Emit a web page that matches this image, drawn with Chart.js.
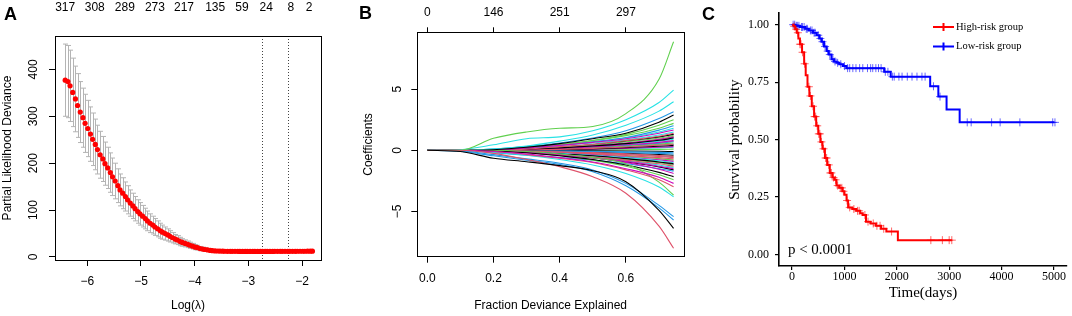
<!DOCTYPE html>
<html lang="en">
<head>
<meta charset="UTF-8">
<title>LASSO and survival</title>
<script src="https://cdn.jsdelivr.net/npm/chart.js"></script>
<style>
  body { margin: 0; background: #fff; width: 1072px; height: 316px; overflow: hidden; position: relative; }
  canvas { position: absolute; top: 0; }
  .tag { position: absolute; font: bold 18px "Liberation Sans", Arial, sans-serif; line-height: 18px; color: #000; }
</style>
</head>
<body>
<canvas id="cvA" width="350" height="316" style="left:0"></canvas>
<canvas id="cvB" width="360" height="316" style="left:350px"></canvas>
<canvas id="cvC" width="372" height="316" style="left:700px"></canvas>
<div class="tag" style="left:4px;top:5px">A</div>
<div class="tag" style="left:359px;top:4px">B</div>
<div class="tag" style="left:702px;top:5px">C</div>
<script>
// ---------- panel A: cross-validation curve ----------
const lassoLogLambda = [
  -6.41, -6.36, -6.32, -6.27, -6.22, -6.18, -6.13, -6.08, -6.04, -5.99,
  -5.94, -5.90, -5.85, -5.81, -5.76, -5.71, -5.67, -5.62, -5.57, -5.53,
  -5.48, -5.43, -5.39, -5.34, -5.29, -5.25, -5.20, -5.15, -5.11, -5.06,
  -5.02, -4.97, -4.92, -4.88, -4.83, -4.78, -4.74, -4.69, -4.64, -4.60,
  -4.55, -4.50, -4.46, -4.41, -4.36, -4.32, -4.27, -4.23, -4.18, -4.13,
  -4.09, -4.04, -3.99, -3.95, -3.90, -3.85, -3.81, -3.76, -3.71, -3.67,
  -3.62, -3.57, -3.53, -3.48, -3.44, -3.39, -3.34, -3.30, -3.25, -3.20,
  -3.16, -3.11, -3.06, -3.02, -2.97, -2.92, -2.88, -2.83, -2.78, -2.74,
  -2.69, -2.65, -2.60, -2.55, -2.51, -2.46, -2.41, -2.37, -2.32, -2.27,
  -2.23, -2.18, -2.13, -2.09, -2.04, -1.99, -1.95, -1.90, -1.85, -1.81
];
const lassoDeviance = [
  377, 374, 365, 351, 337, 323, 309, 297, 285, 274,
  262, 251, 240, 229, 218, 209, 199, 190, 180, 171,
  162, 152, 143, 136, 129, 122, 115, 109, 103, 97,
  92, 87, 82, 77, 72, 68, 64, 60, 56, 53,
  50, 47, 44, 41, 38, 36, 33, 31, 29, 27,
  25, 23, 21, 20, 18, 17, 16, 15, 14, 13.5,
  13, 12.8, 12.6, 12.4, 12.3, 12.2, 12.1, 12, 12, 12,
  11.9, 11.9, 11.8, 11.8, 11.8, 11.8, 11.8, 11.8, 11.8, 11.8,
  11.8, 11.9, 11.9, 11.9, 12, 12, 12, 12.1, 12.1, 12.1,
  12.2, 12.2, 12.2, 12.3, 12.3, 12.3, 12.3, 12.4, 12.4, 12.4
];
const lassoSE = [
  77, 77, 76, 73, 70, 68, 65, 63, 62, 60,
  58, 56, 54, 52, 50, 48, 46, 44, 42, 40,
  38, 36, 34, 33, 31, 30, 28, 27, 26, 25,
  24, 23, 22, 21, 20, 19, 18, 17, 16, 15,
  14, 13, 12, 11, 10, 9.5, 9, 8, 7.5, 7,
  6.5, 6, 5.5, 5, 4.5, 4, 3.5, 3, 2.8, 2.5,
  2.3, 2.1, 2, 1.9, 1.8, 1.7, 1.6, 1.5, 1.5, 1.5,
  1.5, 1.5, 1.5, 1.5, 1.5, 1.5, 1.5, 1.5, 1.5, 1.5,
  1.5, 1.5, 1.5, 1.5, 1.5, 1.5, 1.5, 1.5, 1.5, 1.5,
  1.5, 1.5, 1.5, 1.5, 1.5, 1.5, 1.5, 1.5, 1.5, 1.5
];
const lassoTopAt = [-6.41, -5.86, -5.30, -4.74, -4.20, -3.62, -3.12, -2.67, -2.21, -1.87];
const lassoTopLabels = ['317', '308', '289', '273', '217', '135', '59', '24', '8', '2'];
const lassoXTicks = [-6, -5, -4, -3, -2];
const lassoYTicks = [0, 100, 200, 300, 400];
const lambdaMin = -2.74;
const lambda1se = -2.27;

// ---------- panel B: coefficient paths ----------
const coefX = [0, 0.1, 0.2, 0.3, 0.4, 0.5, 0.6, 0.7, 0.744];
const coefPaths = [
  [0, -0.1, -0.65, -0.93, -1.25, -1.67, -2.56, -4.9, -6.37],
  [0, 0, -0.25, -0.75, -1.34, -2.16, -3.51, -6.2, -8.0],
  [0, 0, 0.98, 1.5, 1.8, 1.95, 3.0, 5.8, 8.87],
  [0, -0.05, -0.35, -0.7, -1.05, -1.6, -2.7, -4.5, -5.42],
  [0, 0.05, 0.45, 0.95, 1.1, 1.6, 2.5, 3.9, 4.92],
  [0, 0, -0.1, -0.3, -0.6, -0.95, -1.5, -2.2, -2.7],
  [0, 0, 0.05, 0.25, 0.55, 0.95, 1.4, 2.3, 2.88],
  [0, 0, -0.1, -0.35, -0.65, -1.0, -1.6, -2.4, -2.97],
  [0, 0, 0, -0.1, -0.3, -0.6, -1.1, -2.6, -3.65],
  [0, -0.08, -0.45, -0.8, -1.15, -1.75, -2.9, -4.7, -5.69],
  [0, 0, 0.1, 0.35, 0.75, 1.25, 2.05, 3.2, 3.97],
  [0, 0, 0.05, 0.2, 0.4, 0.65, 0.95, 1.4, 1.66],
  [0, 0, -0.05, -0.2, -0.45, -0.75, -1.2, -1.8, -2.15],
  [0, 0, 0, 0.1, 0.3, 0.5, 0.8, 1.15, 1.4],
  [0, 0, 0.05, 0.25, 0.5, 0.8, 1.2, 1.8, 2.2],
  [0, 0, 0.1, 0.3, 0.6, 1.0, 1.6, 2.6, 3.15],
  [0, 0, -0.15, -0.4, -0.75, -1.2, -1.9, -3.0, -3.79],
  [0, 0, 0, -0.15, -0.35, -0.6, -1.0, -1.55, -1.9],
  [0, 0, 0.02, 0.1, 0.2, 0.35, 0.55, 0.82, 1.0],
  [0, 0, -0.05, -0.18, -0.35, -0.55, -0.8, -1.1, -1.3],
  [0, 0, 0.05, 0.2, 0.45, 0.8, 1.3, 2.05, 2.5],
  [0, 0, 0.03, 0.2, 0.4, 0.7, 1.05, 1.65, 2.0],
  [0, 0, 0.1, 0.3, 0.45, 0.7, 1.0, 1.5, 1.8],
  [0, 0, -0.05, -0.2, -0.4, -0.62, -0.9, -1.3, -1.5],
  [0, 0, -0.05, -0.15, -0.3, -0.45, -0.68, -0.95, -1.1],
  [0, 0, 0, 0.02, 0.08, 0.16, 0.27, 0.42, 0.5],
  [0, 0, -0.05, -0.2, -0.45, -0.8, -1.3, -2.0, -2.4],
  [0, -0.02, -0.2, -0.4, -0.6, -0.8, -1.1, -1.5, -1.7],
  [0, 0, 0.05, 0.2, 0.4, 0.6, 0.85, 1.25, 1.5],
  [0, 0, 0, 0.05, 0.15, 0.28, 0.45, 0.65, 0.8],
  [0, 0, 0, 0.02, 0.06, 0.12, 0.22, 0.33, 0.4],
  [0, 0, -0.02, -0.08, -0.15, -0.27, -0.42, -0.6, -0.7],
  [0, 0, 0, 0.1, 0.25, 0.45, 0.7, 1.0, 1.2],
  [0, 0, 0, -0.02, -0.05, -0.08, -0.12, -0.17, -0.2],
  [0, 0, -0.05, -0.15, -0.25, -0.4, -0.6, -0.85, -1.0],
  [0, 0, 0, 0.05, 0.2, 0.4, 0.6, 0.9, 1.1],
  [0, 0, 0, 0.1, 0.25, 0.45, 0.75, 1.1, 1.3],
  [0, 0, 0, -0.03, -0.1, -0.18, -0.28, -0.42, -0.5],
  [0, 0, 0, 0.02, 0.1, 0.2, 0.33, 0.5, 0.6],
  [0, 0, 0, -0.02, -0.06, -0.12, -0.18, -0.25, -0.3],
  [0, 0, 0, 0.05, 0.15, 0.3, 0.5, 0.75, 0.9],
  [0, 0, 0, 0, 0.05, 0.1, 0.16, 0.25, 0.3],
  [0, 0, 0, 0, -0.02, -0.03, -0.05, -0.08, -0.1],
  [0, 0, 0, -0.05, -0.12, -0.22, -0.35, -0.5, -0.6],
  [0, 0, 0, 0, 0.02, 0.03, 0.05, 0.08, 0.1],
  [0, 0, 0, 0.03, 0.1, 0.22, 0.38, 0.57, 0.7],
  [0, 0, 0, -0.1, -0.3, -0.55, -0.85, -1.2, -1.4],
  [0, 0, -0.02, -0.1, -0.2, -0.35, -0.55, -0.78, -0.9],
  [0, 0, 0, -0.03, -0.08, -0.15, -0.24, -0.34, -0.4],
  [0, 0, 0.02, 0.08, 0.2, 0.35, 0.58, 0.9, 1.1],
  [0, 0, -0.03, -0.12, -0.28, -0.48, -0.75, -1.02, -1.2],
  [0, 0, 0, 0.03, 0.1, 0.18, 0.29, 0.42, 0.5],
  [0, 0, 0, -0.04, -0.1, -0.2, -0.32, -0.46, -0.55],
  [0, 0, 0.03, 0.12, 0.28, 0.48, 0.75, 1.08, 1.3],
  [0, 0, -0.04, -0.15, -0.35, -0.6, -0.95, -1.35, -1.6],
  [0, 0, 0, 0.05, 0.12, 0.24, 0.4, 0.6, 0.75],
  [0, 0, 0, -0.06, -0.16, -0.3, -0.48, -0.68, -0.8],
  [0, 0, 0.02, 0.08, 0.18, 0.32, 0.52, 0.8, 1.0],
  [0, 0, 0, 0.01, 0.04, 0.08, 0.13, 0.2, 0.25],
  [0, 0, -0.02, -0.1, -0.25, -0.43, -0.68, -0.97, -1.15]
];
const coefXTicks = [0, 0.2, 0.4, 0.6];
const coefTopLabels = ['0', '146', '251', '297'];
const coefYTicks = [-5, 0, 5];

// ---------- panel C: Kaplan-Meier ----------
const highTime = [0, 30, 60, 90, 120, 150, 190, 230, 260, 294, 330, 376, 420, 460, 500, 540, 580, 627, 670, 720,
  770, 810, 847, 900, 960, 1000, 1040, 1070, 1150, 1224, 1300, 1349, 1412, 1500, 1600, 1700, 1800, 2020, 3050];
const highSurv = [1, 0.993, 0.98, 0.965, 0.94, 0.915, 0.88, 0.83, 0.78, 0.73, 0.69, 0.645, 0.60, 0.56, 0.525, 0.49, 0.46, 0.42, 0.39, 0.355,
  0.335, 0.325, 0.30, 0.29, 0.275, 0.26, 0.235, 0.205, 0.198, 0.19, 0.18, 0.172, 0.143, 0.135, 0.125, 0.112, 0.10, 0.0625, 0.0625];
const highCensor = [40, 80, 110, 150, 170, 200, 240, 320, 350, 400, 430, 450, 480, 510, 530, 560, 600, 640, 660, 700,
  730, 750, 790, 830, 870, 920, 950, 980, 1050, 1100, 1180, 1250, 1280, 1390, 1450, 1550, 1620, 1680, 1750, 1900,
  2650, 2870, 3000, 3050];
const lowTime = [0, 60, 150, 250, 320, 400, 470, 520, 565, 610, 660, 700, 753, 800, 847, 900, 972, 1036,
  1758, 1883, 2637, 2793, 2950, 3200, 5010];
const lowSurv = [1, 0.995, 0.99, 0.982, 0.975, 0.965, 0.954, 0.94, 0.926, 0.905, 0.885, 0.87, 0.85, 0.84, 0.834, 0.828, 0.82, 0.811,
  0.795, 0.774, 0.732, 0.687, 0.631, 0.575, 0.575];
const lowCensor = [20, 50, 80, 100, 130, 180, 200, 230, 270, 290, 350, 380, 420, 440, 500, 540, 580, 630, 680, 720,
  780, 820, 870, 930, 1000, 1060, 1100, 1160, 1220, 1290, 1350, 1440, 1500, 1540, 1600, 1650, 1700, 1780, 1830, 1915,
  1950, 2040, 2100, 2200, 2290, 2385, 2480, 2540, 2700, 2825, 3345, 3420, 3810, 3973, 4350, 4977, 5020];
const kmXTicks = [0, 1000, 2000, 3000, 4000, 5000];
const kmYTicks = [0, 0.25, 0.5, 0.75, 1];
const groupNames = ['High-risk group', 'Low-risk group'];
const pValueText = 'p < 0.0001';

// ---------- shared bits ----------
const SANS = '"Liberation Sans", Arial, sans-serif';
const SERIF = '"Liberation Serif", "Times New Roman", serif';
// matplot default colours 1:6
const rPalette = ['#000000', '#DF536B', '#61D04F', '#2297E6', '#28E2E5', '#CD0BBC'];
const minus = v => String(v).replace('-', '\u2212');

const frame = {
  id: 'frame',
  afterDraw(chart) {
    const a = chart.chartArea, ctx = chart.ctx;
    ctx.save();
    ctx.strokeStyle = '#000';
    ctx.lineWidth = 1;
    ctx.strokeRect(Math.round(a.left) + 0.5, Math.round(a.top) + 0.5,
      Math.round(a.right - a.left), Math.round(a.bottom - a.top));
    ctx.restore();
  }
};

function fixedTicks(list) {
  return scale => { scale.ticks = list.map(v => ({ value: v })); };
}

// ---------- chart A ----------
const errorBars = {
  id: 'errorBars',
  beforeDatasetsDraw(chart) {
    const { ctx, scales: { x, y }, chartArea } = chart;
    ctx.save();
    ctx.strokeStyle = '#b4b4b4';
    ctx.lineWidth = 1;
    lassoLogLambda.forEach((v, i) => {
      const px = Math.round(x.getPixelForValue(v)) + 0.5;
      const hi = y.getPixelForValue(lassoDeviance[i] + lassoSE[i]);
      const lo = y.getPixelForValue(lassoDeviance[i] - lassoSE[i]);
      ctx.beginPath();
      ctx.moveTo(px, hi); ctx.lineTo(px, lo);
      ctx.moveTo(px - 2.5, hi); ctx.lineTo(px + 2.5, hi);
      ctx.moveTo(px - 2.5, lo); ctx.lineTo(px + 2.5, lo);
      ctx.stroke();
    });
    ctx.strokeStyle = '#444';
    ctx.setLineDash([1, 2]);
    [lambdaMin, lambda1se].forEach(v => {
      const px = Math.round(x.getPixelForValue(v)) + 0.5;
      ctx.beginPath();
      ctx.moveTo(px, chartArea.top);
      ctx.lineTo(px, chartArea.bottom);
      ctx.stroke();
    });
    ctx.restore();
  }
};

new Chart(document.getElementById('cvA'), {
  type: 'scatter',
  data: {
    datasets: [{
      label: 'Partial Likelihood Deviance',
      data: lassoLogLambda.map((v, i) => ({ x: v, y: lassoDeviance[i] })),
      backgroundColor: '#ff0000',
      borderWidth: 0,
      pointRadius: 2.6
    }]
  },
  options: {
    responsive: false,
    animation: false,
    layout: { padding: { left: 0, right: 29, top: 0, bottom: 0 } },
    plugins: { legend: { display: false }, tooltip: { enabled: false } },
    scales: {
      x: {
        type: 'linear', position: 'bottom', min: -6.6, max: -1.65,
        afterBuildTicks: fixedTicks(lassoXTicks),
        afterFit: s => { s.height = 56; },
        ticks: { autoSkip: false, maxRotation: 0, padding: 8.7, color: '#000',
          font: { family: SANS, size: 12 }, callback: v => minus(v) },
        grid: { drawOnChartArea: false, tickLength: 6, color: '#000' },
        border: { display: false },
        title: { display: true, text: 'Log(\u03BB)', color: '#000',
          font: { family: SANS, size: 12 }, padding: { top: 0, bottom: 3 } }
      },
      xTop: {
        type: 'linear', position: 'top', min: -6.6, max: -1.65,
        afterBuildTicks: fixedTicks(lassoTopAt),
        afterFit: s => { s.height = 36; },
        ticks: { autoSkip: false, maxRotation: 0, padding: 13, color: '#000',
          font: { family: SANS, size: 12 }, callback: (v, i) => lassoTopLabels[i] },
        grid: { display: false },
        border: { display: false }
      },
      y: {
        type: 'linear', position: 'left', min: -6.4, max: 471.2,
        afterBuildTicks: fixedTicks(lassoYTicks),
        afterFit: s => { s.width = 55; },
        ticks: { autoSkip: false, minRotation: 90, maxRotation: 90, crossAlign: 'center',
          padding: 5, color: '#000', font: { family: SANS, size: 12 } },
        grid: { drawOnChartArea: false, tickLength: 6, color: '#000' },
        border: { display: false },
        title: { display: true, text: 'Partial Likelihood Deviance', color: '#000',
          font: { family: SANS, size: 12 }, padding: { top: 0.3, bottom: 0 } }
      }
    }
  },
  plugins: [errorBars, frame]
});

// ---------- chart B ----------
new Chart(document.getElementById('cvB'), {
  type: 'scatter',
  data: {
    datasets: coefPaths.map((path, i) => ({
      label: 'path ' + (i + 1),
      data: coefX.map((x, k) => ({ x: x, y: path[k] })),
      showLine: true,
      borderColor: rPalette[i % rPalette.length],
      borderWidth: 1.1,
      pointRadius: 0,
      cubicInterpolationMode: 'monotone'
    }))
  },
  options: {
    responsive: false,
    animation: false,
    layout: { padding: { left: 0, right: 26, top: 0, bottom: 0 } },
    plugins: { legend: { display: false }, tooltip: { enabled: false } },
    scales: {
      x: {
        type: 'linear', position: 'bottom', min: -0.0302, max: 0.7755,
        afterBuildTicks: fixedTicks(coefXTicks),
        afterFit: s => { s.height = 59.3; },
        ticks: { autoSkip: false, maxRotation: 0, padding: 8.6, color: '#000',
          font: { family: SANS, size: 12 }, callback: v => v.toFixed(1) },
        grid: { drawOnChartArea: false, tickLength: 6, color: '#000' },
        border: { display: false },
        title: { display: true, text: 'Fraction Deviance Explained', color: '#000',
          font: { family: SANS, size: 12 }, padding: { top: 0, bottom: 2.8 } }
      },
      xTop: {
        type: 'linear', position: 'top', min: -0.0302, max: 0.7755,
        afterBuildTicks: fixedTicks(coefXTicks),
        afterFit: s => { s.height = 32.3; },
        ticks: { autoSkip: false, maxRotation: 0, padding: 7.6, color: '#000',
          font: { family: SANS, size: 12 }, callback: (v, i) => coefTopLabels[i] },
        grid: { drawOnChartArea: false, tickLength: 5, color: '#000' },
        border: { display: false }
      },
      y: {
        type: 'linear', position: 'left', min: -8.69, max: 9.64,
        afterBuildTicks: fixedTicks(coefYTicks),
        afterFit: s => { s.width = 67.3; },
        ticks: { autoSkip: false, minRotation: 90, maxRotation: 90, crossAlign: 'center',
          padding: 6.4, color: '#000', font: { family: SANS, size: 12 }, callback: v => minus(v) },
        grid: { drawOnChartArea: false, tickLength: 6, color: '#000' },
        border: { display: false },
        title: { display: true, text: 'Coefficients', color: '#000',
          font: { family: SANS, size: 12 }, padding: { top: 11.8, bottom: 0 } }
      }
    }
  },
  plugins: [frame]
});

// ---------- chart C ----------
function survAt(times, surv, t) {
  let s = surv[0];
  for (let i = 0; i < times.length; i++) {
    if (times[i] <= t) s = surv[i];
  }
  return s;
}

const kmExtras = {
  id: 'kmExtras',
  afterDraw(chart) {
    const { ctx, scales: { x, y } } = chart;
    ctx.save();
    // legend
    const items = [chart.data.datasets[0], chart.data.datasets[1]];
    const rows = [27, 46.5];
    items.forEach((ds, i) => {
      const yy = rows[i];
      ctx.strokeStyle = ds.borderColor;
      ctx.lineWidth = 2;
      ctx.beginPath();
      ctx.moveTo(233, yy); ctx.lineTo(254, yy);
      ctx.moveTo(243.5, yy - 4); ctx.lineTo(243.5, yy + 4);
      ctx.stroke();
      ctx.fillStyle = '#000';
      ctx.font = '10.5px ' + SERIF;
      ctx.textBaseline = 'middle';
      ctx.textAlign = 'left';
      ctx.fillText(ds.label, 256, yy);
    });
    // p value
    ctx.font = '15px ' + SERIF;
    ctx.fillText(pValueText, x.getPixelForValue(-80), y.getPixelForValue(0.02));
    ctx.restore();
  }
};

new Chart(document.getElementById('cvC'), {
  type: 'scatter',
  data: {
    datasets: [
      {
        label: groupNames[0],
        data: highTime.map((t, i) => ({ x: t, y: highSurv[i] })),
        showLine: true, stepped: true,
        borderColor: '#ff0000', borderWidth: 2, pointRadius: 0
      },
      {
        label: groupNames[1],
        data: lowTime.map((t, i) => ({ x: t, y: lowSurv[i] })),
        showLine: true, stepped: true,
        borderColor: '#0000ff', borderWidth: 2, pointRadius: 0
      },
      {
        label: groupNames[0] + ' censored',
        data: highCensor.map(t => ({ x: t, y: survAt(highTime, highSurv, t) })),
        pointStyle: 'cross', pointRadius: 4, borderWidth: 1,
        borderColor: 'rgba(255,0,0,0.6)'
      },
      {
        label: groupNames[1] + ' censored',
        data: lowCensor.map(t => ({ x: t, y: survAt(lowTime, lowSurv, t) })),
        pointStyle: 'cross', pointRadius: 4, borderWidth: 1,
        borderColor: 'rgba(0,0,255,0.6)'
      }
    ]
  },
  options: {
    responsive: false,
    animation: false,
    layout: { padding: { left: 0, right: 2, top: 2, bottom: 0 } },
    plugins: { legend: { display: false }, tooltip: { enabled: false } },
    scales: {
      x: {
        type: 'linear', position: 'bottom', min: -250, max: 5250,
        afterBuildTicks: fixedTicks(kmXTicks),
        afterFit: s => { s.height = 50; },
        ticks: { autoSkip: false, maxRotation: 0, padding: 0, color: '#000',
          font: { family: SERIF, size: 12 }, callback: v => String(v) },
        grid: { drawOnChartArea: false, tickLength: 4, color: '#000', lineWidth: 1.2 },
        border: { display: true, color: '#000', width: 1.6 },
        title: { display: true, text: 'Time(days)', color: '#000',
          font: { family: SERIF, size: 15 }, padding: { top: 0, bottom: 13.9 } }
      },
      y: {
        type: 'linear', position: 'left', min: -0.05, max: 1.05,
        afterBuildTicks: fixedTicks(kmYTicks),
        afterFit: s => { s.width = 79; },
        ticks: { autoSkip: false, padding: 6, color: '#000',
          font: { family: SERIF, size: 12 }, callback: v => v.toFixed(2) },
        grid: { drawOnChartArea: false, tickLength: 4, color: '#000', lineWidth: 1.2 },
        border: { display: true, color: '#000', width: 1.6 },
        title: { display: true, text: 'Survival probability', color: '#000',
          font: { family: SERIF, size: 15 }, padding: { top: 25.9, bottom: 0 } }
      }
    }
  },
  plugins: [kmExtras]
});
</script>
</body>
</html>
